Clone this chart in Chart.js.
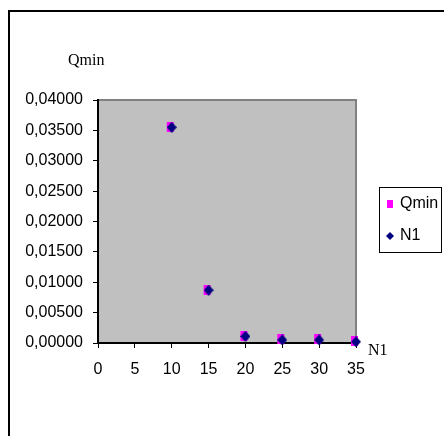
<!DOCTYPE html>
<html>
<head>
<meta charset="utf-8">
<script src="https://cdn.jsdelivr.net/npm/chart.js@4"></script>
<style>
  html, body { margin: 0; padding: 0; background: #fff; }
  #wrap { width: 444px; height: 436px; position: relative; }
</style>
</head>
<body>
<div id="wrap"><canvas id="c" width="444" height="436"></canvas></div>
<script>
// N1 values on the x axis
const n1Values = [10, 15, 20, 25, 30, 35];
// Qmin series (pink squares) and N1 series (navy diamonds)
const qminValues = [0.0355, 0.0088, 0.0011, 0.0006, 0.0006, 0.0003];
const n1SeriesValues = [0.0355, 0.0087, 0.0011, 0.0005, 0.0005, 0.0002];
const seriesLabels = ["Qmin", "N1"];

const toPoints = ys => n1Values.map((x, i) => ({ x: x, y: ys[i] }));

// marqueurs façon Excel
function squareMarker() {
  const c = document.createElement("canvas");
  c.width = 14; c.height = 10;
  const g = c.getContext("2d");
  g.fillStyle = "#ff00ff";
  g.fillRect(2, 0, 7, 10);
  return c;
}
function diamondMarker() {
  const c = document.createElement("canvas");
  c.width = 10; c.height = 11;
  const g = c.getContext("2d");
  g.fillStyle = "#000080";
  g.beginPath();
  g.moveTo(5, 0);
  g.lineTo(10, 5.5);
  g.lineTo(5, 11);
  g.lineTo(0, 5.5);
  g.closePath();
  g.fill();
  return c;
}

// fond gris + cadre + titres + legende
const decor = {
  id: "decor",
  beforeDraw(chart) {
    const { ctx, chartArea: a } = chart;
    ctx.save();
    ctx.fillStyle = "#c0c0c0";
    ctx.fillRect(a.left, a.top, a.right - a.left, a.bottom - a.top);
    ctx.strokeStyle = "#808080";
    ctx.lineWidth = 2;
    ctx.beginPath();
    ctx.moveTo(a.left, a.top);
    ctx.lineTo(a.right, a.top);
    ctx.lineTo(a.right, a.bottom);
    ctx.stroke();
    // cadre exterieur
    ctx.strokeStyle = "#000";
    ctx.lineWidth = 2;
    ctx.beginPath();
    ctx.moveTo(9, 440);
    ctx.lineTo(9, 11);
    ctx.lineTo(450, 11);
    ctx.stroke();
    ctx.restore();
  },
  afterDraw(chart) {
    const { ctx } = chart;
    ctx.save();
    ctx.fillStyle = "#000";
    ctx.font = "16px 'Liberation Serif'";
    ctx.textBaseline = "middle";
    ctx.fillText("Qmin", 68, 61);
    ctx.fillText("N1", 368, 351);
    // legende
    ctx.strokeStyle = "#000";
    ctx.lineWidth = 1;
    ctx.fillStyle = "#fff";
    ctx.fillRect(379.5, 187.5, 62, 65);
    ctx.strokeRect(379.5, 187.5, 62, 65);
    ctx.font = "16px 'Liberation Sans'";
    ctx.fillStyle = "#000";
    ctx.fillText(seriesLabels[0], 400, 204);
    ctx.fillText(seriesLabels[1], 400, 236);
    ctx.fillStyle = "#ff00ff";
    ctx.fillRect(387, 200, 6, 8);
    ctx.fillStyle = "#000080";
    ctx.beginPath();
    ctx.moveTo(390, 232);
    ctx.lineTo(394, 236);
    ctx.lineTo(390, 240);
    ctx.lineTo(386, 236);
    ctx.closePath();
    ctx.fill();
    ctx.restore();
  }
};

new Chart(document.getElementById("c"), {
  type: "scatter",
  data: {
    datasets: [
      {
        label: seriesLabels[0],
        data: toPoints(qminValues),
        order: 1,
        pointStyle: squareMarker(),
        backgroundColor: "#ff00ff",
        borderColor: "#ff00ff"
      },
      {
        label: seriesLabels[1],
        data: toPoints(n1SeriesValues),
        order: 0,
        pointStyle: diamondMarker(),
        backgroundColor: "#000080",
        borderColor: "#000080"
      }
    ]
  },
  options: {
    responsive: false,
    animation: false,
    clip: false,
    layout: { padding: { left: 0, top: 100, right: 88, bottom: 0 } },
    plugins: { legend: { display: false }, tooltip: { enabled: false } },
    scales: {
      x: {
        type: "linear",
        min: 0, max: 35,
        ticks: { stepSize: 5, color: "#000", font: { family: "'Liberation Sans'", size: 16 }, padding: 12 },
        grid: { drawOnChartArea: false, color: "#000", tickLength: 5 },
        border: { color: "#000", width: 2 },
        afterFit(s) { s.height = 93; }
      },
      y: {
        min: 0, max: 0.04,
        ticks: {
          stepSize: 0.005, color: "#000", font: { family: "'Liberation Sans'", size: 16 }, padding: 10,
          callback: v => v.toFixed(5).replace(".", ",")
        },
        grid: { drawOnChartArea: false, color: "#000", tickLength: 5 },
        border: { color: "#000", width: 2 },
        afterFit(s) { s.width = 98; }
      }
    }
  },
  plugins: [decor]
});
</script>
</body>
</html>
